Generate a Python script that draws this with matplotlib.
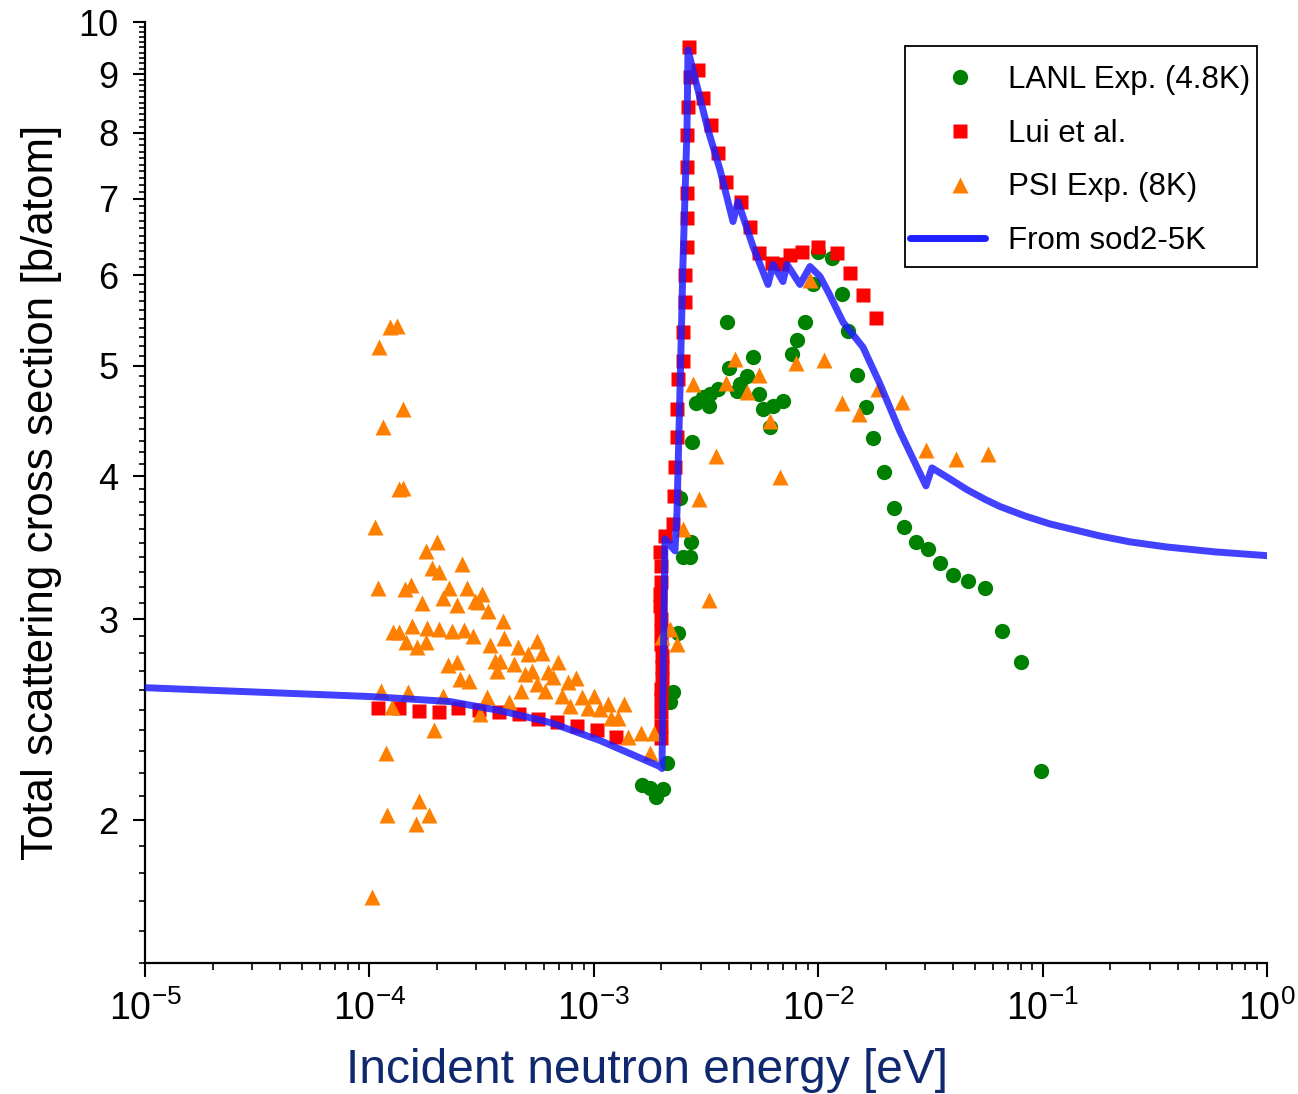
import numpy as np
import matplotlib
matplotlib.use('Agg')
import matplotlib.pyplot as plt
from matplotlib import font_manager
from matplotlib.patches import Rectangle
from matplotlib.legend_handler import HandlerLine2DCompound
from matplotlib.ticker import FixedLocator, LogLocator, NullFormatter, FuncFormatter

# ---------------- data ----------------
# LANL Exp. (4.8K)
lanl_e = [1.640e-3, 1.780e-3, 1.893e-3, 2.034e-3, 2.119e-3, 2.186e-3, 2.254e-3, 2.372e-3,
          2.422e-3, 2.497e-3, 2.684e-3, 2.712e-3, 2.739e-3, 2.853e-3, 3.066e-3, 3.261e-3,
          3.294e-3, 3.577e-3, 3.923e-3, 4.004e-3, 4.346e-3, 4.482e-3, 4.817e-3, 5.123e-3,
          5.447e-3, 5.675e-3, 6.100e-3, 6.289e-3, 6.966e-3, 7.641e-3, 8.044e-3, 8.734e-3,
          9.480e-3, 9.980e-3, 1.152e-2, 1.277e-2, 1.358e-2, 1.489e-2, 1.633e-2, 1.754e-2,
          1.964e-2, 2.177e-2, 2.412e-2, 2.728e-2, 3.085e-2, 3.490e-2, 3.988e-2, 4.651e-2,
          5.537e-2, 6.593e-2, 8.011e-2, 9.838e-2]
lanl_s = [2.146, 2.133, 2.095, 2.129, 2.243, 2.541, 2.592, 2.919,
          3.830, 3.402, 3.402, 3.506, 4.287, 4.637, 4.694, 4.609,
          4.722, 4.770, 5.458, 4.975, 4.751, 4.818, 4.895, 5.086,
          4.722, 4.581, 4.418, 4.609, 4.656, 5.117, 5.264, 5.458,
          5.891, 6.295, 6.220, 5.774, 5.359, 4.905, 4.600, 4.322,
          4.036, 3.754, 3.614, 3.506, 3.457, 3.361, 3.281, 3.242,
          3.196, 2.931, 2.754, 2.207]

# Lui et al.
lui_e = [1.092e-4, 1.355e-4, 1.663e-4, 2.042e-4, 2.481e-4, 3.079e-4, 3.781e-4, 4.642e-4,
         5.640e-4, 6.855e-4, 8.415e-4, 1.033e-3, 1.256e-3,
         1.993e-3, 1.993e-3, 1.993e-3, 1.993e-3, 1.993e-3, 2.013e-3, 2.013e-3, 2.013e-3,
         1.993e-3, 1.993e-3, 1.993e-3, 1.972e-3, 1.972e-3, 1.993e-3, 1.993e-3, 1.972e-3,
         2.076e-3, 2.254e-3, 2.277e-3, 2.300e-3, 2.348e-3, 2.348e-3, 2.372e-3, 2.497e-3,
         2.497e-3, 2.549e-3, 2.549e-3, 2.602e-3, 2.602e-3, 2.602e-3, 2.602e-3, 2.602e-3,
         2.629e-3, 2.684e-3, 2.656e-3,
         2.912e-3, 3.066e-3, 3.329e-3, 3.577e-3, 3.882e-3, 4.529e-3, 4.966e-3, 5.447e-3,
         6.224e-3, 6.896e-3, 7.486e-3, 8.468e-3, 9.980e-3, 1.213e-2, 1.386e-2, 1.584e-2,
         1.809e-2]
lui_s = [2.510, 2.510, 2.495, 2.490, 2.510, 2.500, 2.490, 2.480,
         2.455, 2.440, 2.421, 2.401, 2.368,
         2.359, 2.421, 2.490, 2.556, 2.608, 2.661, 2.726, 2.788,
         2.856, 2.931, 3.002, 3.082, 3.158, 3.235, 3.341, 3.436,
         3.548, 3.635, 3.846, 4.076, 4.330, 4.581, 4.866, 5.045,
         5.349, 5.681, 6.010, 6.359, 6.741, 7.088, 7.471, 7.966,
         8.427, 8.953, 9.510,
         9.080, 8.582, 8.128, 7.684, 7.246, 6.961, 6.621, 6.283,
         6.157, 6.134, 6.257, 6.295, 6.359, 6.283, 6.023, 5.762,
         5.501]

# PSI Exp. (8K)
psi_e = [1.027e-4, 1.059e-4, 1.103e-4, 1.150e-4, 1.235e-4, 1.327e-4, 1.355e-4, 1.411e-4,
         1.411e-4, 1.092e-4, 1.126e-4, 1.186e-4, 1.198e-4, 1.261e-4, 1.274e-4, 1.355e-4,
         1.441e-4, 1.456e-4, 1.486e-4, 1.532e-4, 1.548e-4, 1.613e-4, 1.630e-4, 1.663e-4,
         1.715e-4, 1.787e-4, 1.787e-4, 1.806e-4, 1.843e-4, 1.901e-4, 1.941e-4, 2.001e-4,
         2.042e-4, 2.042e-4, 2.128e-4, 2.128e-4, 2.240e-4, 2.263e-4, 2.334e-4, 2.457e-4,
         2.457e-4, 2.534e-4, 2.586e-4, 2.640e-4, 2.722e-4, 2.779e-4, 2.895e-4, 2.955e-4,
         3.048e-4, 3.111e-4, 3.176e-4, 3.343e-4, 3.377e-4, 3.447e-4, 3.628e-4, 3.703e-4,
         3.819e-4, 3.939e-4, 3.980e-4, 4.189e-4, 4.409e-4, 4.594e-4, 4.738e-4, 4.937e-4,
         5.092e-4, 5.304e-4, 5.583e-4, 5.583e-4, 5.877e-4, 6.061e-4, 6.251e-4, 6.579e-4,
         6.926e-4, 7.216e-4, 7.674e-4, 7.833e-4, 8.330e-4, 8.860e-4, 9.423e-4, 1.002e-3,
         1.066e-3, 1.157e-3, 1.193e-3, 1.282e-3, 1.363e-3, 1.420e-3, 1.623e-3, 1.855e-3,
         1.780e-3, 2.013e-3, 2.186e-3, 2.348e-3, 2.497e-3, 2.767e-3, 2.943e-3, 3.261e-3,
         3.504e-3, 3.882e-3, 4.257e-3, 4.817e-3, 5.447e-3, 6.100e-3, 6.757e-3, 7.962e-3,
         9.194e-3, 1.061e-2, 1.277e-2, 1.520e-2, 1.847e-2, 2.363e-2, 3.022e-2, 4.113e-2,
         5.711e-2]
psi_s = [1.713, 3.613, 5.190, 4.418, 5.403, 5.414, 3.900, 4.581,
         3.908, 3.196, 2.598, 2.289, 2.020, 2.515, 2.925, 2.925,
         3.190, 2.867, 2.588, 3.216, 2.961, 1.984, 2.838, 2.078,
         3.101, 3.443, 2.867, 2.949, 2.020, 3.326, 2.397, 3.506,
         3.300, 2.943, 3.132, 2.572, 2.737, 3.196, 2.931, 3.088,
         2.754, 2.661, 3.353, 2.937, 3.196, 2.650, 2.901, 3.113,
         3.107, 2.480, 3.158, 2.567, 3.051, 2.850, 2.760, 2.705,
         2.760, 2.990, 2.890, 2.541, 2.742, 2.838, 2.598, 2.688,
         2.798, 2.705, 2.873, 2.634, 2.804, 2.598, 2.699, 2.672,
         2.754, 2.572, 2.645, 2.520, 2.667, 2.567, 2.510, 2.572,
         2.505, 2.530, 2.460, 2.460, 2.530, 2.368, 2.387, 2.387,
         2.289, 2.895, 2.943, 2.856, 3.598, 4.818, 3.822, 3.119,
         4.168, 4.828, 5.067, 4.742, 4.905, 4.473, 3.997, 5.026,
         5.939, 5.057, 4.637, 4.535, 4.770, 4.646, 4.219, 4.143,
         4.185]

# From sod2-5K (calculated curve)
sod_e = [1.0e-5, 1.0e-4, 2.29e-4, 3.82e-4, 6.38e-4, 1.066e-3, 1.45e-3, 1.97e-3,
         2.013e-3, 2.076e-3, 2.30e-3, 2.348e-3, 2.422e-3, 2.497e-3, 2.602e-3, 2.629e-3,
         3.228e-3, 3.651e-3, 4.172e-3, 4.391e-3, 5.123e-3, 5.975e-3, 6.289e-3, 6.966e-3,
         7.261e-3, 8.296e-3, 9.194e-3, 1.019e-2, 1.12e-2, 1.29e-2, 1.584e-2, 1.885e-2,
         2.314e-2, 3.022e-2, 3.213e-2, 3.868e-2, 4.603e-2, 5.537e-2, 6.459e-2, 8.35e-2,
         0.1079, 0.1803, 0.2452, 0.3584, 0.5865, 1.0]
sod_s = [2.613, 2.567, 2.541, 2.495, 2.436, 2.349, 2.288, 2.229,
         2.220, 3.527, 3.443, 3.724, 4.770, 6.157, 8.046, 9.452,
         8.046, 7.426, 6.688, 6.961, 6.359, 5.891, 6.134, 5.926,
         6.134, 5.891, 6.108, 5.986, 5.780, 5.460, 5.190, 4.820,
         4.380, 3.925, 4.070, 3.980, 3.895, 3.820, 3.765, 3.694,
         3.635, 3.548, 3.506, 3.470, 3.436, 3.410]

y_major = [2, 3, 4, 5, 6, 7, 8, 9, 10]
x_major = [1e-5, 1e-4, 1e-3, 1e-2, 1e-1, 1e0]

# ---------------- fonts ----------------
def pick(fam, fallback):
    try:
        font_manager.findfont(font_manager.FontProperties(family=fam),
                              fallback_to_default=False)
        return fam
    except Exception:
        return fallback

REG = pick('Liberation Sans', 'DejaVu Sans')


class OffsetMarkerHandler(HandlerLine2DCompound):
    """Legend handler placing the single marker right of the handle centre."""
    def get_xdata(self, legend, xdescent, ydescent, width, height, fontsize):
        xdata, _ = super().get_xdata(legend, xdescent, ydescent, width, height, fontsize)
        return xdata, np.array([-xdescent + 0.67 * width])


# ---------------- figure ----------------
fig = plt.figure(figsize=(12.98, 10.94), dpi=100)
W, H = 1298, 1094
ax = fig.add_axes([145 / W, 1 - 963 / H, 1122 / W, 941 / H])
ax.set_xscale('log')
ax.set_yscale('log')
ax.set_xlim(1e-5, 1)
ax.set_ylim(1.5, 10)

h1, = ax.plot(lanl_e, lanl_s, ls='none', marker='o', ms=11, mec='none',
              color='#008000', label='LANL Exp. (4.8K)', zorder=3)
h2, = ax.plot(lui_e, lui_s, ls='none', marker='s', ms=10, mec='none',
              color='#ff0000', label='Lui et al.', zorder=4)
h3, = ax.plot(psi_e, psi_s, ls='none', marker='^', ms=12, mec='none',
              color='#ff8000', label='PSI Exp. (8K)', zorder=5)
h4, = ax.plot(sod_e, sod_s, ls='-', lw=5, color='#1f1fff', alpha=0.85,
              solid_joinstyle='round', solid_capstyle='round',
              label='From sod2-5K', zorder=6)

# spines
for s in ['top', 'right']:
    ax.spines[s].set_visible(False)
for s in ['left', 'bottom']:
    ax.spines[s].set_linewidth(1.6)

# ticks
ax.yaxis.set_major_locator(FixedLocator(y_major))
ax.yaxis.set_major_formatter(FuncFormatter(lambda v, p: '%d' % round(v)))
minor_y = [v for v in np.round(np.arange(1.5, 10.0, 0.1), 2) if abs(v - round(v)) > 1e-6]
ax.yaxis.set_minor_locator(FixedLocator(minor_y))
ax.yaxis.set_minor_formatter(NullFormatter())

ax.xaxis.set_major_locator(FixedLocator(x_major))
ax.xaxis.set_major_formatter(FuncFormatter(
    lambda v, p: r'$\mathregular{10^{%d}}$' % int(round(np.log10(v)))))
ax.xaxis.set_minor_locator(LogLocator(base=10, subs=np.arange(2, 10), numticks=50))
ax.xaxis.set_minor_formatter(NullFormatter())

ax.tick_params(axis='y', which='major', direction='out', length=9, width=1.5,
               pad=10, labelsize=26)
ax.tick_params(axis='y', which='minor', direction='out', length=4.5, width=1.2)
ax.tick_params(axis='x', which='major', direction='out', length=10, width=1.5,
               pad=10, labelsize=27)
ax.tick_params(axis='x', which='minor', direction='out', length=5, width=1.2)
for lab in ax.get_yticklabels() + ax.get_xticklabels():
    lab.set_fontfamily(REG)

ax.set_xlabel('Incident neutron energy [eV]', fontsize=34.5, family=REG,
              color='#10296e')
ax.xaxis.set_label_coords((647 - 145) / 1122, -0.090, transform=ax.transAxes)
ax.xaxis.label.set_va('top')
ax.set_ylabel('Total scattering cross section [b/atom]', fontsize=31.6,
              family=REG, color='black', labelpad=12)

# legend frame drawn as a plain rectangle (Origin-style box)
frame = Rectangle(((905 - 145) / 1122, (963 - 267) / 941), 352 / 1122, 221 / 941,
                  transform=ax.transAxes, facecolor='white', edgecolor='black',
                  linewidth=1.3, clip_on=False, zorder=9)
ax.add_patch(frame)

leg = ax.legend(handles=[h1, h2, h3, h4], loc='upper left',
                bbox_to_anchor=((910 - 145) / 1122, (963 - 65) / 941),
                borderaxespad=0, frameon=False,
                prop={'family': REG, 'size': 22.5}, handlelength=2.4,
                handletextpad=0.74, labelspacing=0.76, borderpad=0.0,
                numpoints=1, markerscale=1.0,
                handler_map={h1: OffsetMarkerHandler(), h2: OffsetMarkerHandler(),
                             h3: OffsetMarkerHandler()})
leg.set_zorder(10)
for lh in leg.get_lines():
    lh.set_alpha(1.0)

fig.savefig('out.png', dpi=100)
